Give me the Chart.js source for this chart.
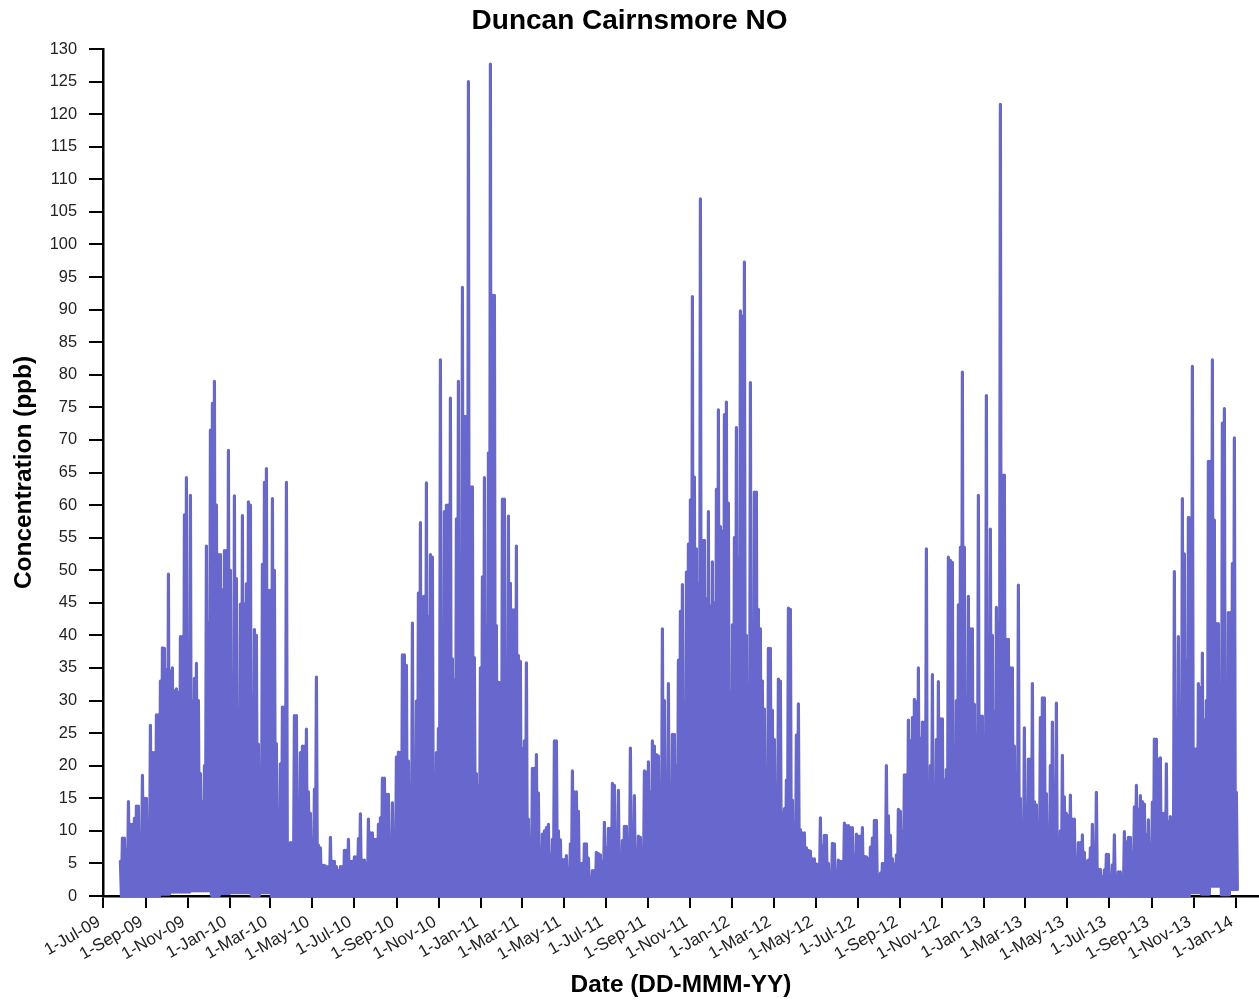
<!DOCTYPE html>
<html>
<head>
<meta charset="utf-8">
<title>Duncan Cairnsmore NO</title>
<script src="https://cdn.jsdelivr.net/npm/chart.js@4"></script>
<style>
  html, body { margin: 0; padding: 0; background: #fff; }
  canvas { display: block; }
</style>
</head>
<body>
<canvas id="myChart" width="1259" height="1001"></canvas>
<script>
// tick positions are days since 1-Jul-09
const tickLabels = ['1-Jul-09','1-Sep-09','1-Nov-09','1-Jan-10','1-Mar-10','1-May-10','1-Jul-10','1-Sep-10','1-Nov-10','1-Jan-11','1-Mar-11','1-May-11','1-Jul-11','1-Sep-11','1-Nov-11','1-Jan-12','1-Mar-12','1-May-12','1-Jul-12','1-Sep-12','1-Nov-12','1-Jan-13','1-Mar-13','1-May-13','1-Jul-13','1-Sep-13','1-Nov-13','1-Jan-14'];
const tickDays = [0,62,123,184,243,304,365,427,488,549,608,669,730,792,853,914,974,1035,1096,1158,1219,1280,1339,1400,1461,1523,1584,1645];

const firstDay = 25.3;
const dayStep = 2.904;
const samplesPerTrough = 5; // one troughValues entry covers 5 peaks

// upper envelope of the readings
const peakValues = [
  5.3,8.9,8.9,7.2,14.5,11,11,11.9,13.8,13.8,1.5,18.5,15,15,9.7,26.2,22,22,27.8,27.8,
  33,38.1,38,34.7,49.4,34.5,35,31.5,31.8,31.2,39.8,39.8,58.5,64.2,32,61.5,30,33.4,35.7,30,
  18.8,14.4,20,53.7,42,71.5,75.6,79,60,52.4,52.4,47,53,53,68.4,50,33.9,61.4,48.7,26.8,
  44.8,58.4,44.8,47.9,60.5,60,30.8,40.9,40,23.3,19.7,50.9,63.5,65.6,46.9,46.9,61,50,23.4,11.4,
  20.3,29,29,63.5,7,8.2,8.2,27.7,27.7,13,22,23,23,25.6,16,12.7,7,16.4,33.6,7.8,
  7.4,4.7,4.7,4.5,4.5,9,5.3,5.3,4.5,3.9,4.5,4.5,7,7,8.7,5.3,5.3,6,6,8.8,
  12.6,5.5,5.5,5,11.8,9.7,9.7,8.7,8.7,11,12,18.1,18.1,15.6,15.6,7.8,14.3,10.4,21.3,22.1,
  22,37,37,35.4,20.7,14,41.9,15.8,29.9,46.5,57.3,45.9,46,63.4,42.8,52.4,52,13.3,22,25.7,
  82.3,25.5,59,60,60,76.4,36.4,33.2,57.9,79,43,93.4,73.6,73.6,125,62.8,62.8,36.6,18.8,17,
  35,49,64.2,41.5,68,127.7,92.2,92.2,41.5,32.8,32.8,60.9,60.9,30,58.3,48,43.9,43.9,53.7,36.9,
  36,22.6,23.8,35.8,11.8,5.7,19.6,19.6,21.7,15.8,6,9.5,10,10.5,11,6.3,8.7,23.8,23.8,10,
  8.6,5.6,5.6,6.2,3.2,8,19.2,16,16,13,5,5,8,8,5.8,2.8,3.9,3.9,6.7,6.5,
  6.3,5.3,11.3,7.4,10.4,10.4,17.3,17,9.5,16.2,4.6,8.5,10.7,10.7,8.3,22.7,3.5,15.4,7,9.2,
  9,6.7,19.2,19,20.6,15.9,23.8,23,21.7,21.5,9.9,41,30,9.5,32.6,11.3,24.8,24.8,20,36.2,
  43.7,47.8,24.1,49.7,54,60.8,92,64.3,53.3,48,107,54.6,54.6,45.6,59,44.5,51.3,45,62.4,74.6,
  56.7,56,73.9,75.8,60.3,31.4,41.6,55,71.9,52,89.8,89,97.3,40,29,78.8,25.5,62,62,44,
  41,33,28.7,17.6,38,38,28.5,24,10.6,33.3,33,12.7,13.4,17.8,44.2,44,14.7,3.9,24.7,29.5,
  10.2,9.7,9.7,7.4,7,6.9,5.7,5.7,4.9,4.9,12,7.7,9.3,9.3,5,2.9,8.1,8,3.3,5.5,
  5.3,5.3,11.2,10.8,10.8,10.5,10.5,6.1,9.5,9.2,9.2,10.5,6.1,6,5.7,7.5,8.9,11.6,11.6,3.1,
  3.5,5,5,20,12.3,9.3,5.7,4.9,6.3,13.3,13,9.9,18.6,18.6,27,23.8,27.4,30.2,29.8,35,
  24.2,26.7,26.7,53.3,12.9,20,34,16,24,32.9,27.2,27.2,17.8,19.4,52,51.5,51.2,23,30,44.7,
  53.5,80.4,53.5,23.8,46,41,41,29.4,24.6,61.5,27.6,27.6,21,76.8,31.4,56.3,40,28.2,44.3,41.8,
  121.5,64.6,64.6,39.4,39.4,35,35,23,15.7,47.7,15,5.7,25.8,14,21,21,32.6,14.5,14,11,
  27.4,30.4,30.4,15.7,6.9,20,26.7,9.7,29.6,4.8,10,21.6,15.2,12.7,12.3,15.5,11.8,11.8,3.7,8.2,
  8.2,9.4,6.7,5.3,5.5,7.4,11,2.9,15.9,4.1,4.1,2.9,4,6.4,6.4,3.1,4.8,9.4,2.3,3.7,
  3.7,2.6,9.9,8.3,9,9,6.7,13.7,17,13.3,15.4,14.5,14.1,9.4,11.7,8,14.4,24.1,24.1,21,
  21.2,12.7,12.7,20.3,11.4,12.2,5.6,49.8,21.8,39.8,21.8,61,52.5,36,58.1,58,81.3,22.6,22.6,32.6,
  32,37.3,27,30,66.7,66.7,82.3,57.7,41.8,41.8,32.5,72.6,74.8,21.8,43.5,43.5,51,70.3,15.9
];

// lowest readings, one for each 5 peaks
const troughValues = [
  0,0,0,0,0.3,0.6,0.6,0.8,0.8,0.1,0.4,0.5,0.5,0.1,0.5,0,0,0,0,0,
  0,0,0,0,0,0,0,0,0,0,0,0,0,0,0,0,0,0,0,0,
  0,0,0,0,0,0,0,0,0,0,0,0,0,0,0,0,0,0,0,0,
  0,0,0,0,0,0,0,0,0,0,0,0,0,0,0,0,0,0,0,0,
  0,0,0,0,0,0,0,0,0,0,0,0,0,0,0,0,0,0,0,0,
  0,0,0,0,0,0,0,0.5,0.3,1.5,0.2,1
];

function buildSeries() {
  const points = [];
  peakValues.forEach((value, i) => {
    const day = firstDay + i * dayStep;
    points.push({ x: day, y: value });
    const low = troughValues[Math.floor(i / samplesPerTrough)];
    points.push({ x: day + dayStep / 2, y: low });
  });
  return points;
}

const ctx = document.getElementById('myChart').getContext('2d');
new Chart(ctx, {
  type: 'line',
  data: {
    datasets: [{
      label: 'NO',
      data: buildSeries(),
      borderColor: '#6767cd',
      borderWidth: 3.2,
      borderJoinStyle: 'round',
      borderCapStyle: 'round',
      pointRadius: 0,
      tension: 0,
      fill: false,
      clip: false
    }]
  },
  options: {
    responsive: false,
    animation: false,
    plugins: {
      legend: { display: false },
      tooltip: { enabled: false },
      title: {
        display: true,
        text: 'Duncan Cairnsmore NO',
        color: '#000',
        font: { family: '"Liberation Sans"', size: 28, weight: 'bold', lineHeight: 1.2 },
        padding: { top: 4, bottom: 11.4 }
      }
    },
    scales: {
      x: {
        type: 'linear',
        min: 0,
        max: 1678.6,
        grid: { drawOnChartArea: false, color: '#000', lineWidth: 2, tickLength: 12 },
        border: { color: '#000', width: 2.5 },
        afterBuildTicks: scale => { scale.ticks = tickDays.map(value => ({ value })); },
        afterFit: scale => { scale.height = 105; scale.paddingLeft = 0; scale.paddingRight = 0; },
        ticks: {
          autoSkip: false,
          minRotation: 30,
          maxRotation: 30,
          padding: 4,
          labelOffset: -4,
          color: '#222',
          font: { family: '"Liberation Sans"', size: 17 },
          callback: (value, i) => tickLabels[i]
        },
        title: {
          display: true,
          text: 'Date (DD-MMM-YY)',
          color: '#000',
          font: { family: '"Liberation Sans"', size: 24.4, weight: 'bold' },
          padding: { top: 1.4, bottom: 1.4 }
        }
      },
      y: {
        min: 0,
        max: 130,
        grid: { drawOnChartArea: false, color: '#000', lineWidth: 2, tickLength: 14 },
        border: { color: '#000', width: 2.5 },
        afterFit: scale => { scale.width = 103; },
        ticks: {
          stepSize: 5,
          padding: 12,
          color: '#222',
          font: { family: '"Liberation Sans"', size: 16.4 }
        },
        title: {
          display: true,
          text: 'Concentration (ppb)',
          color: '#000',
          font: { family: '"Liberation Sans"', size: 24.4, weight: 'bold' },
          padding: { top: 10, bottom: 0 }
        }
      }
    }
  }
});
</script>
</body>
</html>
